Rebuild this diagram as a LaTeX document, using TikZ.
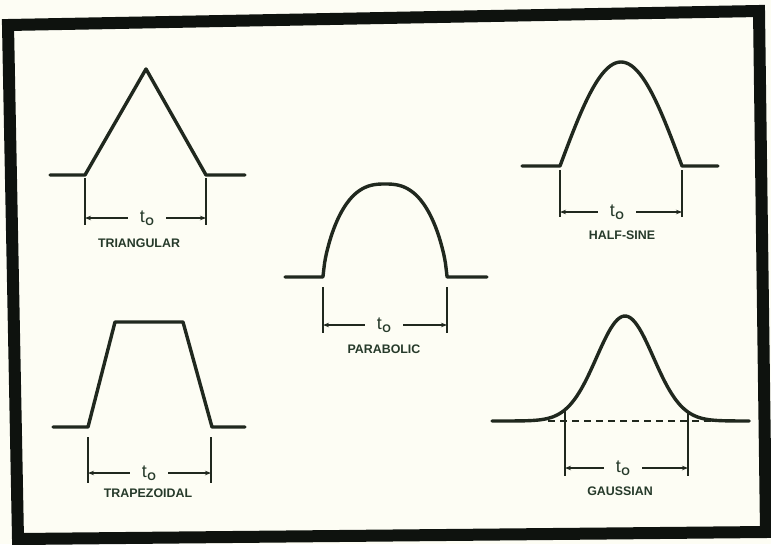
\documentclass[tikz,border=0pt]{standalone}
\usepackage{fontspec}
\setmainfont{Liberation Sans}
\usetikzlibrary{arrows.meta}
\definecolor{ink}{RGB}{32,40,30}
\definecolor{txt}{RGB}{38,58,42}
\definecolor{paper}{RGB}{253,253,244}
\definecolor{framec}{RGB}{14,18,14}
\tikzset{
  pulse/.style={line width=3.4pt, draw=ink, line join=round, line cap=round},
  dimline/.style={line width=1.3pt, draw=ink},
  dimarrow/.style={dimline, -{Stealth[length=6pt,width=4.5pt]}},
  dashline/.style={line width=1.8pt, draw=ink, dash pattern=on 7pt off 5pt},
  lab/.style={font=\fontsize{12.4}{12.4}\selectfont\bfseries, text=txt, inner sep=0pt},
  tzero/.style={text=txt, inner xsep=12pt, inner ysep=0pt},
}
\newcommand{\tnought}{{\fontsize{18}{18}\selectfont t}\kern0.5pt\raisebox{-3pt}{\fontsize{11}{11}\selectfont\bfseries O}}
\begin{document}
\begin{tikzpicture}[x=1pt,y=-1pt]
\useasboundingbox (0,0) rectangle (771,544);
\fill[paper] (0,0) rectangle (771,544);
% frame
\draw[framec, line width=12pt, line join=miter] (8,25) -- (759,11) -- (766,532) -- (18,539) -- cycle;

% ---------- Triangular ----------
\draw[pulse] (50,175) -- (85,175) -- (146,69) -- (206,175) -- (245,175);
\coordinate (triLa) at (85,178); \coordinate (triLb) at (85,225);
\coordinate (triRa) at (206,178); \coordinate (triRb) at (206,225);
\coordinate (triLm) at (85,218); \coordinate (triRm) at (206,218);
\draw[dimline] (triLa) -- (triLb);
\draw[dimline] (triRa) -- (triRb);
\node[tzero] (trit) at (147,218) {\tnought};
\draw[dimarrow] (trit.west) -- (triLm);
\draw[dimarrow] (trit.east) -- (triRm);
\node[lab] (tril) at (139,243) {TRIANGULAR};

% ---------- Trapezoidal ----------
\draw[pulse] (53,427) -- (88,427) -- (115,322) -- (183,322) -- (212,427) -- (245,427);
\coordinate (trpLa) at (88,437); \coordinate (trpLb) at (88,483);
\coordinate (trpRa) at (211,437); \coordinate (trpRb) at (211,483);
\coordinate (trpLm) at (88,473); \coordinate (trpRm) at (211,473);
\draw[dimline] (trpLa) -- (trpLb);
\draw[dimline] (trpRa) -- (trpRb);
\node[tzero] (trpt) at (149,473) {\tnought};
\draw[dimarrow] (trpt.west) -- (trpLm);
\draw[dimarrow] (trpt.east) -- (trpRm);
\node[lab] (trpl) at (148,493) {TRAPEZOIDAL};

% ---------- Parabolic ----------
\draw[pulse] (285,277) -- (323,277)
  -- plot[domain=-0.9995:0.9995, samples=80, smooth] ({385+62*\x},{277-93*((1-(abs(\x))^2.6)^0.7)})
  -- (447,277) -- (487,277);
\coordinate (parLa) at (323,287); \coordinate (parLb) at (323,333);
\coordinate (parRa) at (447,287); \coordinate (parRb) at (447,333);
\coordinate (parLm) at (323,325); \coordinate (parRm) at (447,325);
\draw[dimline] (parLa) -- (parLb);
\draw[dimline] (parRa) -- (parRb);
\node[tzero] (part) at (384,325) {\tnought};
\draw[dimarrow] (part.west) -- (parLm);
\draw[dimarrow] (part.east) -- (parRm);
\node[lab] (parl) at (384,349) {PARABOLIC};

% ---------- Half-sine ----------
\draw[pulse] (522,166) -- (560,166)
  -- plot[domain=-1:1, samples=61, smooth] ({621+61*\x},{166-104*cos(90*\x)})
  -- (682,166) -- (718,166);
\coordinate (hsLa) at (560,170); \coordinate (hsLb) at (560,217);
\coordinate (hsRa) at (682,170); \coordinate (hsRb) at (682,217);
\coordinate (hsLm) at (560,212); \coordinate (hsRm) at (682,212);
\draw[dimline] (hsLa) -- (hsLb);
\draw[dimline] (hsRa) -- (hsRb);
\node[tzero] (hst) at (617,212) {\tnought};
\draw[dimarrow] (hst.west) -- (hsLm);
\draw[dimarrow] (hst.east) -- (hsRm);
\node[lab] (hsl) at (622,235) {HALF-SINE};

% ---------- Gaussian ----------
\draw[dashline] (548,421) -- (713,421);
\draw[pulse] plot[domain=-4.68:4.37, samples=120, smooth] ({625+28.4*\x},{421-105*exp(-0.5*\x*\x)});
\coordinate (gaLa) at (565,411); \coordinate (gaLb) at (565,476);
\coordinate (gaRa) at (688,411); \coordinate (gaRb) at (688,476);
\coordinate (gaLm) at (565,468); \coordinate (gaRm) at (688,468);
\draw[dimline] (gaLa) -- (gaLb);
\draw[dimline] (gaRa) -- (gaRb);
\node[tzero] (gat) at (623,468) {\tnought};
\draw[dimarrow] (gat.west) -- (gaLm);
\draw[dimarrow] (gat.east) -- (gaRm);
\node[lab] (gal) at (620,491) {GAUSSIAN};
\end{tikzpicture}
\end{document}
